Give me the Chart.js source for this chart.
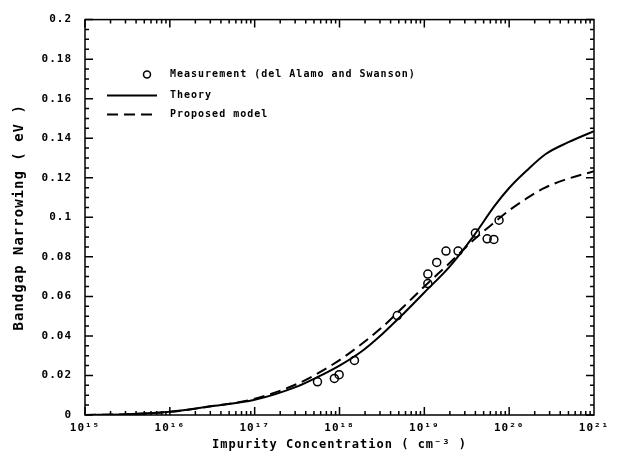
<!DOCTYPE html>
<html>
<head>
<meta charset="utf-8">
<script src="https://cdn.jsdelivr.net/npm/chart.js@4/dist/chart.umd.min.js"></script>
<style>
  body { margin: 0; background: #fff; }
  #wrap { width: 619px; height: 468px; }
</style>
</head>
<body>
<div id="wrap"><canvas id="bgnChart" width="619" height="468"></canvas></div>
<script>
// measured data (del Alamo and Swanson)
const measN = [5.5e17, 8.7e17, 9.9e17, 1.5e18, 4.8e18, 1.1e19, 1.1e19, 1.4e19, 1.8e19, 2.5e19, 4.0e19, 5.5e19, 6.6e19, 7.6e19];
const measBGN = [0.0168, 0.0185, 0.0204, 0.0276, 0.0503, 0.0713, 0.0665, 0.0772, 0.0829, 0.0829, 0.092, 0.0891, 0.0888, 0.0985];

// theory curve
const theoryN = [1e15, 3.2e15, 1e16, 3.2e16, 1e17, 3.2e17, 5.4e17, 1e18, 1.8e18, 3.2e18, 5.6e18, 1e19, 2e19, 3.8e19, 6.8e19, 1e20, 1.6e20, 2.7e20, 5e20, 1e21];
const theoryBGN = [0, 0.0004, 0.0016, 0.0045, 0.0077, 0.0145, 0.019, 0.025, 0.032, 0.041, 0.051, 0.062, 0.0752, 0.0905, 0.106, 0.1148, 0.1235, 0.132, 0.138, 0.1436];

// proposed model curve
const modelN = [1e15, 3.2e15, 1e16, 3.2e16, 1e17, 3.2e17, 7.8e17, 1.3e18, 3.2e18, 5.6e18, 1e19, 2e19, 3.8e19, 6.3e19, 1e20, 1.6e20, 2.5e20, 4.4e20, 1e21];
const modelBGN = [0, 0.0004, 0.0016, 0.0045, 0.0082, 0.0158, 0.0248, 0.0312, 0.0445, 0.0545, 0.065, 0.077, 0.0885, 0.0965, 0.1035, 0.1095, 0.1145, 0.1188, 0.1233];

const xTickValues = [1e15, 1e16, 1e17, 1e18, 1e19, 1e20, 1e21];
const xTickLabels = ['10¹⁵', '10¹⁶', '10¹⁷', '10¹⁸', '10¹⁹', '10²⁰', '10²¹'];
const yTickLabels = ['0', '0.02', '0.04', '0.06', '0.08', '0.1', '0.12', '0.14', '0.16', '0.18', '0.2'];

const FONT = '"DejaVu Sans Mono", monospace';

function toPoints(xs, ys) {
    return xs.map((x, i) => ({ x: x, y: ys[i] }));
}

// inward tick marks + frame
const frameTicks = {
    id: 'frameTicks',
    beforeDraw(chart) {
        chart.ctx.letterSpacing = '1px';
    },
    afterDraw(chart) {
        const { ctx, chartArea: a } = chart;
        const xs = chart.scales.x, ys = chart.scales.y;
        ctx.save();
        ctx.strokeStyle = '#000';
        ctx.lineWidth = 1.5;
        ctx.strokeRect(a.left, a.top, a.right - a.left, a.bottom - a.top);
        ctx.beginPath();
        for (let n = 15; n < 21; n++) {
            for (let k = 1; k <= 9; k++) {
                const px = xs.getPixelForValue(k * Math.pow(10, n));
                const len = k === 1 ? 8 : 4;
                ctx.moveTo(px, a.bottom); ctx.lineTo(px, a.bottom - len);
                ctx.moveTo(px, a.top); ctx.lineTo(px, a.top + len);
            }
        }
        for (let i = 0; i <= 40; i++) {
            const py = ys.getPixelForValue(i * 0.005);
            const len = i % 4 === 0 ? 8 : 4;
            ctx.moveTo(a.left, py); ctx.lineTo(a.left + len, py);
            ctx.moveTo(a.right, py); ctx.lineTo(a.right - len, py);
        }
        ctx.stroke();

        // legend inside plot
        const rowY = [a.top + 55, a.top + 76, a.top + 95];
        ctx.font = 'bold 10px ' + FONT;
        ctx.fillStyle = '#000';
        ctx.textBaseline = 'middle';
        chart.data.datasets.forEach((ds, i) => {
            const y = rowY[i];
            ctx.lineWidth = 1.5;
            if (ds.showLine === false) {
                ctx.beginPath();
                ctx.arc(a.left + 62, y, 3.5, 0, Math.PI * 2);
                ctx.stroke();
            } else {
                ctx.lineWidth = 2;
                ctx.setLineDash(ds.borderDash || []);
                ctx.beginPath();
                ctx.moveTo(a.left + 22, y);
                ctx.lineTo(a.left + 72, y);
                ctx.stroke();
                ctx.setLineDash([]);
            }
            ctx.fillText(ds.label, a.left + 85, y);
        });
        ctx.restore();
    }
};

new Chart(document.getElementById('bgnChart').getContext('2d'), {
    type: 'scatter',
    data: {
        datasets: [{
            label: 'Measurement (del Alamo and Swanson)',
            data: toPoints(measN, measBGN),
            showLine: false,
            pointStyle: 'circle',
            pointRadius: 4,
            pointBorderWidth: 1.5,
            pointBorderColor: '#000',
            pointBackgroundColor: 'rgba(0,0,0,0)'
        }, {
            label: 'Theory',
            data: toPoints(theoryN, theoryBGN),
            showLine: true,
            borderColor: '#000',
            borderWidth: 2,
            pointRadius: 0,
            cubicInterpolationMode: 'monotone'
        }, {
            label: 'Proposed model',
            data: toPoints(modelN, modelBGN),
            showLine: true,
            borderColor: '#000',
            borderWidth: 2,
            borderDash: [11, 6],
            pointRadius: 0,
            cubicInterpolationMode: 'monotone'
        }]
    },
    options: {
        responsive: false,
        animation: false,
        layout: { padding: { top: 11, right: 25, left: 0, bottom: 0 } },
        plugins: {
            legend: { display: false },
            tooltip: { enabled: false }
        },
        scales: {
            x: {
                type: 'logarithmic',
                min: 1e15,
                max: 1e21,
                afterBuildTicks: function(scale) {
                    scale.ticks = xTickValues.map(v => ({ value: v }));
                },
                afterFit: function(scale) { scale.height = 53; },
                grid: { display: false, drawTicks: false },
                border: { display: false },
                ticks: {
                    autoSkip: false,
                    maxRotation: 0,
                    padding: 7,
                    color: '#000',
                    font: { family: FONT, size: 11, weight: 'bold' },
                    callback: function(value) {
                        const i = xTickValues.indexOf(value);
                        return i >= 0 ? xTickLabels[i] : '';
                    }
                },
                title: {
                    display: true,
                    text: 'Impurity Concentration ( cm⁻³ )',
                    color: '#000',
                    font: { family: FONT, size: 12, weight: 'bold' },
                    padding: { top: 0, bottom: 16 }
                }
            },
            y: {
                min: 0,
                max: 0.2,
                afterFit: function(scale) { scale.width = 85; },
                grid: { display: false, drawTicks: false },
                border: { display: false },
                ticks: {
                    stepSize: 0.02,
                    padding: 13,
                    color: '#000',
                    font: { family: FONT, size: 11, weight: 'bold' },
                    callback: function(value) {
                        return yTickLabels[Math.round(value / 0.02)];
                    }
                },
                title: {
                    display: true,
                    text: 'Bandgap Narrowing ( eV )',
                    color: '#000',
                    font: { family: FONT, size: 14, weight: 'bold' },
                    padding: { top: 11, bottom: 0 }
                }
            }
        }
    },
    plugins: [frameTicks]
});
</script>
</body>
</html>
